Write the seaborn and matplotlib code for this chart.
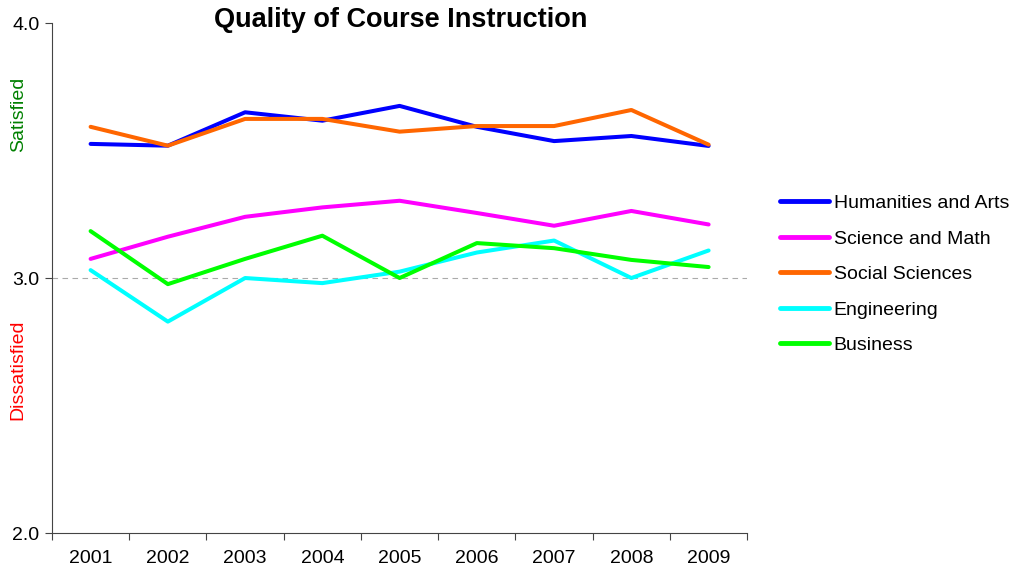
import pandas as pd
import numpy as np
import matplotlib
matplotlib.use("Agg")
import matplotlib.pyplot as plt
import seaborn as sns

# values
years = ["2001", "2002", "2003", "2004", "2005", "2006", "2007", "2008", "2009"]
humanities = [3.526, 3.519, 3.650, 3.617, 3.675, 3.593, 3.537, 3.557, 3.518]
science = [3.075, 3.162, 3.240, 3.277, 3.303, 3.255, 3.205, 3.263, 3.210]
social = [3.593, 3.519, 3.624, 3.624, 3.574, 3.596, 3.596, 3.659, 3.523]
engineering = [3.031, 2.829, 3.000, 2.980, 3.025, 3.100, 3.147, 3.000, 3.108]
business = [3.184, 2.976, 3.075, 3.166, 3.000, 3.137, 3.117, 3.071, 3.043]

groups = ["Humanities and Arts", "Science and Math", "Social Sciences", "Engineering", "Business"]
colors = ["#0000FF", "#FF00FF", "#FF6600", "#00FFFF", "#00FF00"]

df = pd.DataFrame({
    "year": years * 5,
    "score": humanities + science + social + engineering + business,
    "group": np.repeat(groups, len(years)),
})

sns.set_style("white")
plt.rcParams["font.family"] = ["Liberation Sans", "DejaVu Sans"]
plt.rcParams["text.color"] = "black"
plt.rcParams["xtick.color"] = "black"
plt.rcParams["ytick.color"] = "black"

fig = plt.figure(figsize=(10.15, 5.73), dpi=100)
ax = fig.add_axes([0.0512, 0.0698, 0.6850, 0.8900])

sns.lineplot(data=df, x="year", y="score", hue="group", palette=colors,
             hue_order=groups, linewidth=2.9, ax=ax, legend=True)

ax.axhline(3.0, color="#aaaaaa", linestyle=(0, (5, 4)), linewidth=0.8, zorder=0)

ax.set_ylim(2.0, 4.0)
ax.set_xlim(-0.5, len(years) - 0.5)
ax.set_yticks([2.0, 3.0, 4.0])
ax.set_yticklabels(["2.0", "3.0", "4.0"])
ax.set_xticks(range(len(years)))
ax.set_xticklabels(years)
ax.set_xticks(np.arange(-0.5, len(years), 1.0), minor=True)
ax.tick_params(axis="x", which="major", bottom=True, length=0, pad=12, labelsize=14)
ax.tick_params(axis="x", which="minor", bottom=True, length=5, width=0.8, color="#444444")
ax.tick_params(axis="y", left=True, length=5, width=0.8, color="#444444", labelsize=14, pad=4)
ax.set_xlabel("")
ax.set_ylabel("")

for s in ["top", "right"]:
    ax.spines[s].set_visible(False)
for s in ["left", "bottom"]:
    ax.spines[s].set_color("#444444")
    ax.spines[s].set_linewidth(0.8)

fig.text(0.395, 0.965, "Quality of Course Instruction", fontsize=19.5, fontweight="bold",
         ha="center", va="center", color="black")

fig.text(0.018, 0.80, "Satisfied", color="#008000", rotation=90, fontsize=14,
         ha="center", va="center")
fig.text(0.018, 0.355, "Dissatisfied", color="#FF0000", rotation=90, fontsize=14,
         ha="center", va="center")

leg = ax.legend(loc="center left", bbox_to_anchor=(0.761, 0.521), bbox_transform=fig.transFigure,
                frameon=False, fontsize=14, handlelength=2.5, handletextpad=0.25,
                labelspacing=0.92, borderaxespad=0)
for line in leg.get_lines():
    line.set_linewidth(3.5)

fig.savefig("out.png", dpi=100)
